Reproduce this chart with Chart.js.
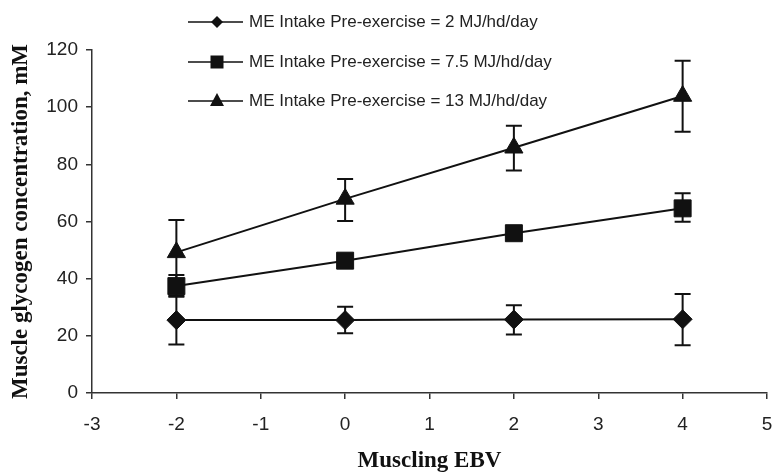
<!DOCTYPE html>
<html>
<head>
<meta charset="utf-8">
<script src="https://cdn.jsdelivr.net/npm/chart.js@4/dist/chart.umd.min.js"></script>
<style>
  body { margin: 0; background: #fff; }
  #wrap { width: 780px; height: 472px; }
</style>
</head>
<body>
<div id="wrap"><canvas id="glycogenChart" width="780" height="472"></canvas></div>
<script>
// Muscling EBV values
const ebv = [-2, 0, 2, 4];

// mean glycogen (mM) and error bar ends per ME intake level
const me2 = [25.5, 25.5, 25.7, 25.8];
const me2Hi = [34.0, 30.2, 30.7, 34.6];
const me2Lo = [17.0, 20.9, 20.5, 16.7];

const me75 = [37.4, 46.3, 55.9, 64.6];
const me75Hi = [41.3, 47.8, 57.4, 69.9];
const me75Lo = [33.7, 44.8, 54.4, 59.9];

const me13 = [49.2, 67.9, 85.8, 103.9];
const me13Hi = [60.5, 74.9, 93.5, 116.2];
const me13Lo = [37.9, 60.2, 77.8, 91.4];

const seriesLabels = [
    "ME Intake Pre-exercise = 2 MJ/hd/day",
    "ME Intake Pre-exercise = 7.5 MJ/hd/day",
    "ME Intake Pre-exercise = 13 MJ/hd/day"
];

const xTicks = [-3, -2, -1, 0, 1, 2, 3, 4, 5];
const yTicks = [0, 20, 40, 60, 80, 100, 120];

const ink = "#111";

function points(ys) {
    return ebv.map((x, i) => ({ x: x, y: ys[i] }));
}

function makeSet(label, ys, hi, lo, style, radius) {
    return {
        label: label,
        data: points(ys),
        hi: hi,
        lo: lo,
        showLine: true,
        borderColor: ink,
        borderWidth: 2,
        backgroundColor: ink,
        pointStyle: style,
        pointRadius: radius,
        pointHoverRadius: radius,
        pointBorderWidth: 1,
        pointBorderColor: ink,
        pointBackgroundColor: ink,
        tension: 0
    };
}

// draws the error bars behind the markers
const errorBars = {
    id: "errorBars",
    beforeDatasetsDraw(chart) {
        const ctx = chart.ctx;
        const xs = chart.scales.x;
        const ys = chart.scales.y;
        ctx.save();
        ctx.strokeStyle = ink;
        ctx.lineWidth = 2;
        chart.data.datasets.forEach(ds => {
            ds.data.forEach((p, i) => {
                const px = xs.getPixelForValue(p.x);
                const top = ys.getPixelForValue(ds.hi[i]);
                const bot = ys.getPixelForValue(ds.lo[i]);
                ctx.beginPath();
                ctx.moveTo(px, top);
                ctx.lineTo(px, bot);
                ctx.moveTo(px - 8, top);
                ctx.lineTo(px + 8, top);
                ctx.moveTo(px - 8, bot);
                ctx.lineTo(px + 8, bot);
                ctx.stroke();
            });
        });
        ctx.restore();
    }
};

function legendMarker(ctx, style, x, y) {
    ctx.beginPath();
    if (style === "rectRot") {
        ctx.moveTo(x, y - 6);
        ctx.lineTo(x + 6, y);
        ctx.lineTo(x, y + 6);
        ctx.lineTo(x - 6, y);
    } else if (style === "rect") {
        ctx.rect(x - 6.5, y - 6.5, 13, 13);
    } else {
        ctx.moveTo(x, y - 8);
        ctx.lineTo(x + 7, y + 5);
        ctx.lineTo(x - 7, y + 5);
    }
    ctx.closePath();
    ctx.fill();
}

// legend sits over the top of the plot, one entry per row
const stackedLegend = {
    id: "stackedLegend",
    afterDraw(chart) {
        const ctx = chart.ctx;
        const rows = [22, 62, 101];
        ctx.save();
        chart.data.datasets.forEach((ds, i) => {
            const y = rows[i];
            ctx.strokeStyle = ink;
            ctx.fillStyle = ink;
            ctx.lineWidth = 1.5;
            ctx.beginPath();
            ctx.moveTo(188, y);
            ctx.lineTo(243, y);
            ctx.stroke();
            legendMarker(ctx, ds.pointStyle, 217, y);
            ctx.fillStyle = "#222";
            ctx.font = "17px 'Liberation Sans', Arial, sans-serif";
            ctx.textBaseline = "middle";
            ctx.textAlign = "left";
            ctx.fillText(ds.label, 249, y);
        });
        ctx.restore();
    }
};

new Chart(document.getElementById("glycogenChart").getContext("2d"), {
    type: "scatter",
    data: {
        datasets: [
            makeSet(seriesLabels[0], me2, me2Hi, me2Lo, "rectRot", 9.5),
            makeSet(seriesLabels[1], me75, me75Hi, me75Lo, "rect", 12),
            makeSet(seriesLabels[2], me13, me13Hi, me13Lo, "triangle", 10.5)
        ]
    },
    options: {
        responsive: false,
        animation: false,
        layout: { padding: { top: 50, right: 3, left: 0, bottom: 0 } },
        plugins: {
            legend: { display: false },
            tooltip: { enabled: false }
        },
        scales: {
            x: {
                type: "linear",
                min: -3,
                max: 5,
                afterBuildTicks: axis => { axis.ticks = xTicks.map(v => ({ value: v })); },
                afterFit: axis => {
                    axis.height = 79;
                    axis.paddingLeft = 0;
                    axis.paddingRight = 0;
                },
                border: { display: true, color: "#333", width: 1.5 },
                grid: { drawOnChartArea: false, drawTicks: true, tickLength: 6, color: "#333", lineWidth: 1.5 },
                ticks: {
                    color: "#222",
                    padding: 14,
                    font: { family: "'Liberation Sans', Arial, sans-serif", size: 19 }
                },
                title: {
                    display: true,
                    text: "Muscling EBV",
                    color: "#111",
                    padding: { top: 0, bottom: -3 },
                    font: { family: "'Liberation Serif', 'Times New Roman', serif", size: 23, weight: "bold" }
                }
            },
            y: {
                type: "linear",
                min: 0,
                max: 120,
                afterBuildTicks: axis => { axis.ticks = yTicks.map(v => ({ value: v })); },
                afterFit: axis => {
                    axis.width = 92;
                    axis.paddingTop = 0;
                    axis.paddingBottom = 0;
                },
                border: { display: true, color: "#333", width: 1.5 },
                grid: { drawOnChartArea: false, drawTicks: true, tickLength: 6, color: "#333", lineWidth: 1.5 },
                ticks: {
                    color: "#222",
                    padding: 8,
                    font: { family: "'Liberation Sans', Arial, sans-serif", size: 19 }
                },
                title: {
                    display: true,
                    text: "Muscle glycogen concentration, mM",
                    color: "#111",
                    padding: { top: 7, bottom: 0 },
                    font: { family: "'Liberation Serif', 'Times New Roman', serif", size: 23, weight: "bold" }
                }
            }
        }
    },
    plugins: [errorBars, stackedLegend]
});
</script>
</body>
</html>
